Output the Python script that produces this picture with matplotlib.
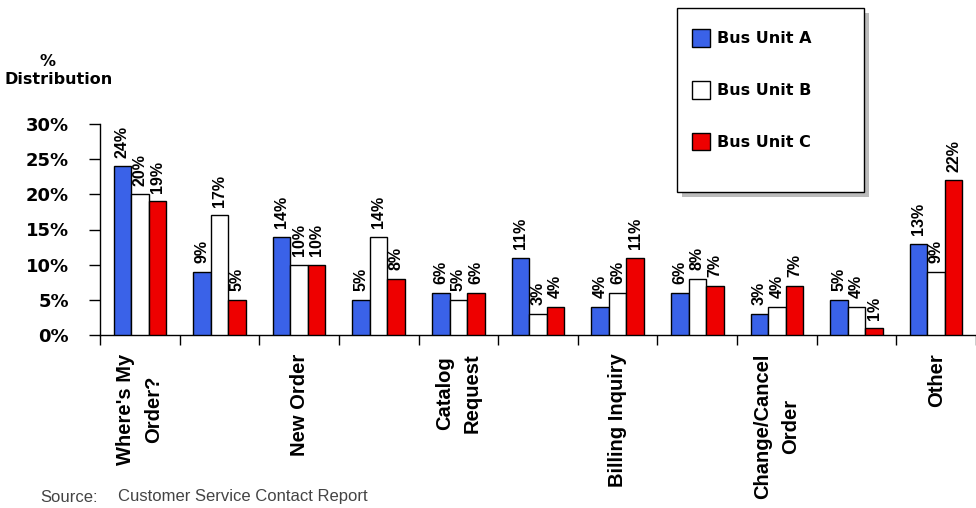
import numpy as np
import matplotlib
matplotlib.use('Agg')
import matplotlib.pyplot as plt
from matplotlib.patches import Patch, Rectangle

# contact reasons (only every other one gets an axis label)
categories = ["Where's My\nOrder?", "", "New Order", "", "Catalog\nRequest", "",
              "Billing Inquiry", "", "Change/Cancel\nOrder", "", "Other"]
unit_a = [24, 9, 14, 5, 6, 11, 4, 6, 3, 5, 13]
unit_b = [20, 17, 10, 14, 5, 3, 6, 8, 4, 4, 9]
unit_c = [19, 5, 10, 8, 6, 4, 11, 7, 7, 1, 22]
series_names = ['Bus Unit A', 'Bus Unit B', 'Bus Unit C']
yticks = [0, 5, 10, 15, 20, 25, 30]

colors = ['#3a62e8', '#ffffff', '#ee0000']
narrow = ['Liberation Sans', 'DejaVu Sans']
wide = ['DejaVu Sans']
plt.rcParams['font.family'] = narrow

fig = plt.figure(figsize=(9.76, 5.08), dpi=100)
ax = fig.add_axes([100 / 976, 173 / 508, 1 - 100 / 976, 211 / 508])

x = np.arange(len(categories))
w = 0.22
for k, vals in enumerate([unit_a, unit_b, unit_c]):
    pos = x + (k - 1) * w
    ax.bar(pos, vals, width=w, color=colors[k], edgecolor='black', linewidth=1.0, zorder=3)
    for px, v in zip(pos, vals):
        ax.text(px, v + 1.2, f'{v}%', rotation=90, ha='center', va='bottom',
                fontsize=11.5, fontweight='bold')

ax.set_xlim(-0.5, -0.5 + 876 / 80.5)
ax.set_ylim(0, 30)
ax.set_yticks(yticks)
ax.set_yticklabels([f'{t}%' for t in yticks], fontsize=13, fontweight='bold', family=wide)
ax.tick_params(axis='y', length=8, width=1, pad=14.5)

# tick marks between groups, labels under group centres
ax.set_xticks(np.arange(len(categories) + 1) - 0.5)
ax.set_xticklabels([])
ax.tick_params(axis='x', length=7, width=1)
for xi, lab in zip(x, categories):
    if lab:
        ax.text(xi, -2.6, lab, rotation=90, ha='center', va='top', multialignment='center',
                fontsize=14.5, fontweight='bold', linespacing=1.6)

for s in ['top', 'right']:
    ax.spines[s].set_visible(False)
ax.spines['left'].set_linewidth(1)
ax.spines['bottom'].set_linewidth(1)

fig.text(48 / 976, 1 - 61 / 508, '%', ha='center', va='center', fontsize=11.5,
         fontweight='bold', family=wide)
fig.text(4 / 976, 1 - 79 / 508, 'Distribution', ha='left', va='center', fontsize=11.5,
         fontweight='bold', family=wide)

# legend box with drop shadow
bx, by, bw, bh = 677 / 976, 1 - 192 / 508, 187 / 976, 184 / 508
fig.patches.append(Rectangle((bx + 5 / 976, by - 5 / 508), bw, bh, transform=fig.transFigure,
                             facecolor='#bbbbbb', edgecolor='none', zorder=1))
fig.patches.append(Rectangle((bx, by), bw, bh, transform=fig.transFigure,
                             facecolor='white', edgecolor='black', linewidth=1, zorder=2))
handles = [Patch(facecolor=c, edgecolor='black', linewidth=1) for c in colors]
leg = fig.legend(handles, series_names, loc='upper left', bbox_to_anchor=(678 / 976, 1 - 15 / 508),
                 frameon=False, handlelength=1.1, handleheight=1.3,
                 handletextpad=0.45, labelspacing=2.15,
                 prop={'weight': 'bold', 'size': 11.5, 'family': wide})

fig.text(40 / 976, 1 - 497 / 508, 'Source:', ha='left', va='center', fontsize=12, color='#444444')
fig.text(118 / 976, 1 - 497 / 508, 'Customer Service Contact Report', ha='left', va='center',
         fontsize=12, color='#444444')

fig.savefig('out.png', dpi=100)
